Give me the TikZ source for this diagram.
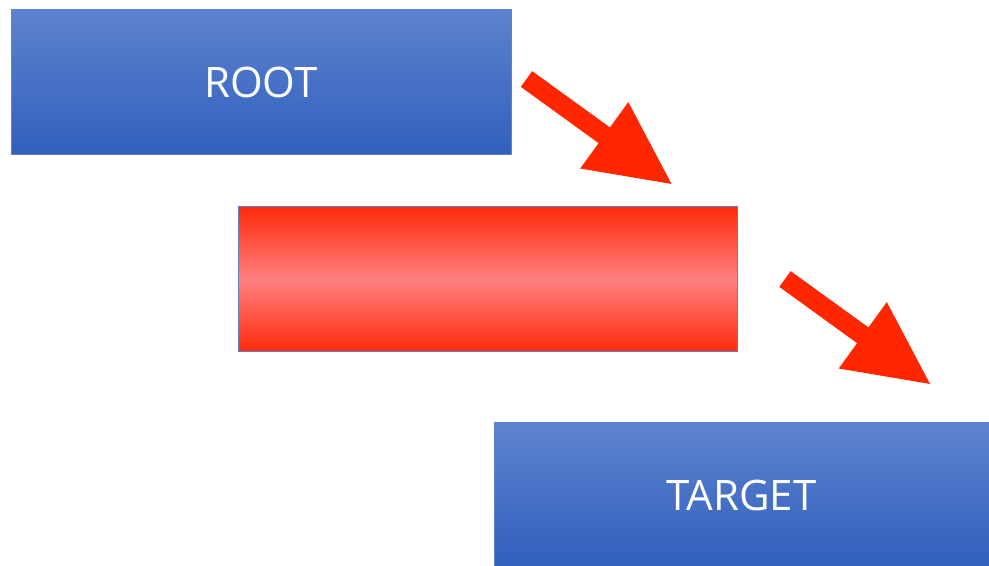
\documentclass[tikz,border=0pt]{standalone}
\usepackage{fontspec}
\setmainfont{Open Sans}
\definecolor{bluetop}{RGB}{94,130,207}
\definecolor{bluebot}{RGB}{48,96,188}
\definecolor{boxedge}{RGB}{92,128,210}
\definecolor{redend}{RGB}{255,42,10}
\definecolor{redmid}{RGB}{255,128,128}
\definecolor{arrowred}{RGB}{255,38,0}
\tikzset{
  bluebox/.style={rectangle, draw=boxedge, line width=0.75pt,
    top color=bluetop, bottom color=bluebot,
    minimum height=108.75pt, text=white, font=\fontsize{31.5}{38}\selectfont},
  redbox/.style={rectangle, draw=boxedge, line width=0.75pt,
    top color=redend, bottom color=redend, middle color=redmid,
    minimum width=374.25pt, minimum height=108.75pt},
  blockarrow/.style={fill=arrowred, draw=none},
}
\begin{document}
\begin{tikzpicture}[x=0.75pt, y=0.75pt]
  \useasboundingbox (0,0) rectangle (989,-566);
  \clip (0,0) rectangle (989,-566);
  \fill[white] (0,0) rectangle (989,-566);

  % boxes
  \node[bluebox, minimum width=375pt] (root) at (261,-82.5) {ROOT};
  \node[redbox] (mid) at (487.5,-279.5) {};
  \node[bluebox, minimum width=371.25pt] (target) at (741.5,-495.5) {TARGET};

  % block arrows, drawn along a local axis from tail to tip
  \foreach \tx/\ty [count=\i] in {526.5/-79, 785/-279} {
    \begin{scope}[shift={(\tx,\ty)}, rotate=-35.9]
      \fill[blockarrow] (0,9.7) -- (96,9.7) -- (96,41) -- (179,0)
        -- (96,-41) -- (96,-9.7) -- (0,-9.7) -- cycle;
    \end{scope}
  }
\end{tikzpicture}
\end{document}
